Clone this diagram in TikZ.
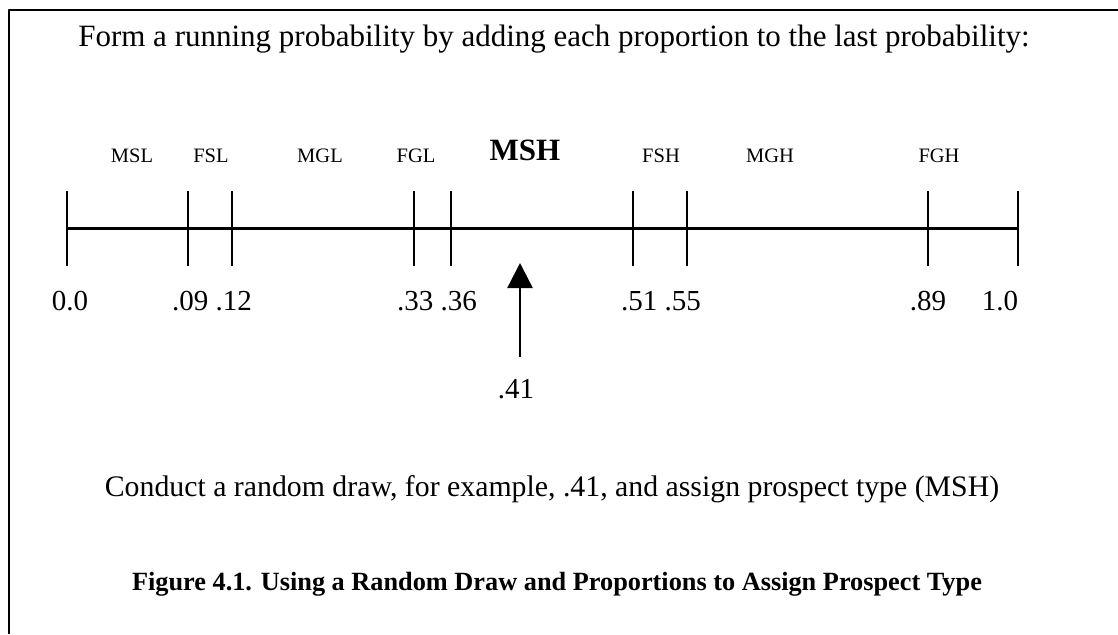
\documentclass[tikz,border=0pt]{standalone}
\usepackage{fontspec}
\setmainfont{Liberation Serif}
\usetikzlibrary{arrows.meta}

\begin{document}
\begin{tikzpicture}[x=1pt,y=-1pt,line join=bevel,
  every node/.style={inner sep=0pt,outer sep=0pt},
  bigtxt/.style={anchor=base,font=\fontsize{31pt}{34pt}\selectfont},
  numtxt/.style={anchor=base,font=\fontsize{29pt}{32pt}\selectfont},
  segtxt/.style={anchor=base,font=\fontsize{20.5pt}{22pt}\selectfont},
  ticklin/.style={line width=2.4pt}]
  % 1pt = 1 source px, y measured downward from the top edge
  \path[use as bounding box] (0,0) rectangle (1118,634);  % source canvas 1118x634px
  % ---- frame: only top and left edges are visible ----
  \coordinate (frTR) at (1118,10);
  \coordinate (frTL) at (9,10);
  \coordinate (frBL) at (9,634);
  \draw[line width=2pt] (frTR) -- (frTL) -- (frBL);
  % ---- heading ----
  \node[bigtxt] (head) at (554,47) {Form a running probability by adding each proportion to the last probability:};
  % ---- number line: tick x from source px, line at y=228 ----
  \foreach \n/\x in {00/67,09/188,12/232,33/414,36/451,51/633,55/687,89/928,100/1018}
    \coordinate (p\n) at (\x,228);
  \draw[line width=3pt] (p00) -- (p100);
  \foreach \n in {00,09,12,33,36,51,55,89,100}
    \draw[ticklin] ([yshift=37pt]p\n) -- ([yshift=-38pt]p\n);
  % ---- segment labels (baseline y=162) ----
  \node[segtxt] (sMSL) at (132,162) {MSL};
  \node[segtxt] (sFSL) at (211,162) {FSL};
  \node[segtxt] (sMGL) at (320,162) {MGL};
  \node[segtxt] (sFGL) at (416,162) {FGL};
  \node[anchor=base,font=\bfseries\fontsize{31pt}{34pt}\selectfont] (sMSH) at (525,160) {MSH};
  \node[segtxt] (sFSH) at (661,162) {FSH};
  \node[segtxt] (sMGH) at (770,162) {MGH};
  \node[segtxt] (sFGH) at (939,162) {FGH};
  % ---- cumulative values (baseline y=310) ----
  \node[numtxt] (v00)   at (70,310)   {0.0};
  \node[numtxt] (v0912) at (212,310)  {.09 .12};
  \node[numtxt] (v3336) at (437,310)  {.33 .36};
  \node[numtxt] (v5155) at (661,310)  {.51 .55};
  \node[numtxt] (v89)   at (928,310)  {.89};
  \node[numtxt] (v100)  at (1000,310) {1.0};
  % ---- random draw arrow: tail y=357, tip y=263 ----
  \coordinate (drTail) at (520,357);
  \coordinate (drTip)  at (520,263);
  \draw[line width=2.4pt,-{Triangle[width=25pt,length=25pt]}] (drTail) -- (drTip);
  \node[numtxt] (v41) at (516,398) {.41};
  % ---- note and caption ----
  \node[bigtxt,font=\fontsize{29.8pt}{32pt}\selectfont] (note) at (552,496) {Conduct a random draw, for example, .41, and assign prospect type (MSH)};
  \node[anchor=base,font=\bfseries\fontsize{26.3pt}{28pt}\selectfont] (caption) at (557,590)
    {Figure 4.1. Using a Random Draw and Proportions to Assign Prospect Type};
\end{tikzpicture}
\end{document}
